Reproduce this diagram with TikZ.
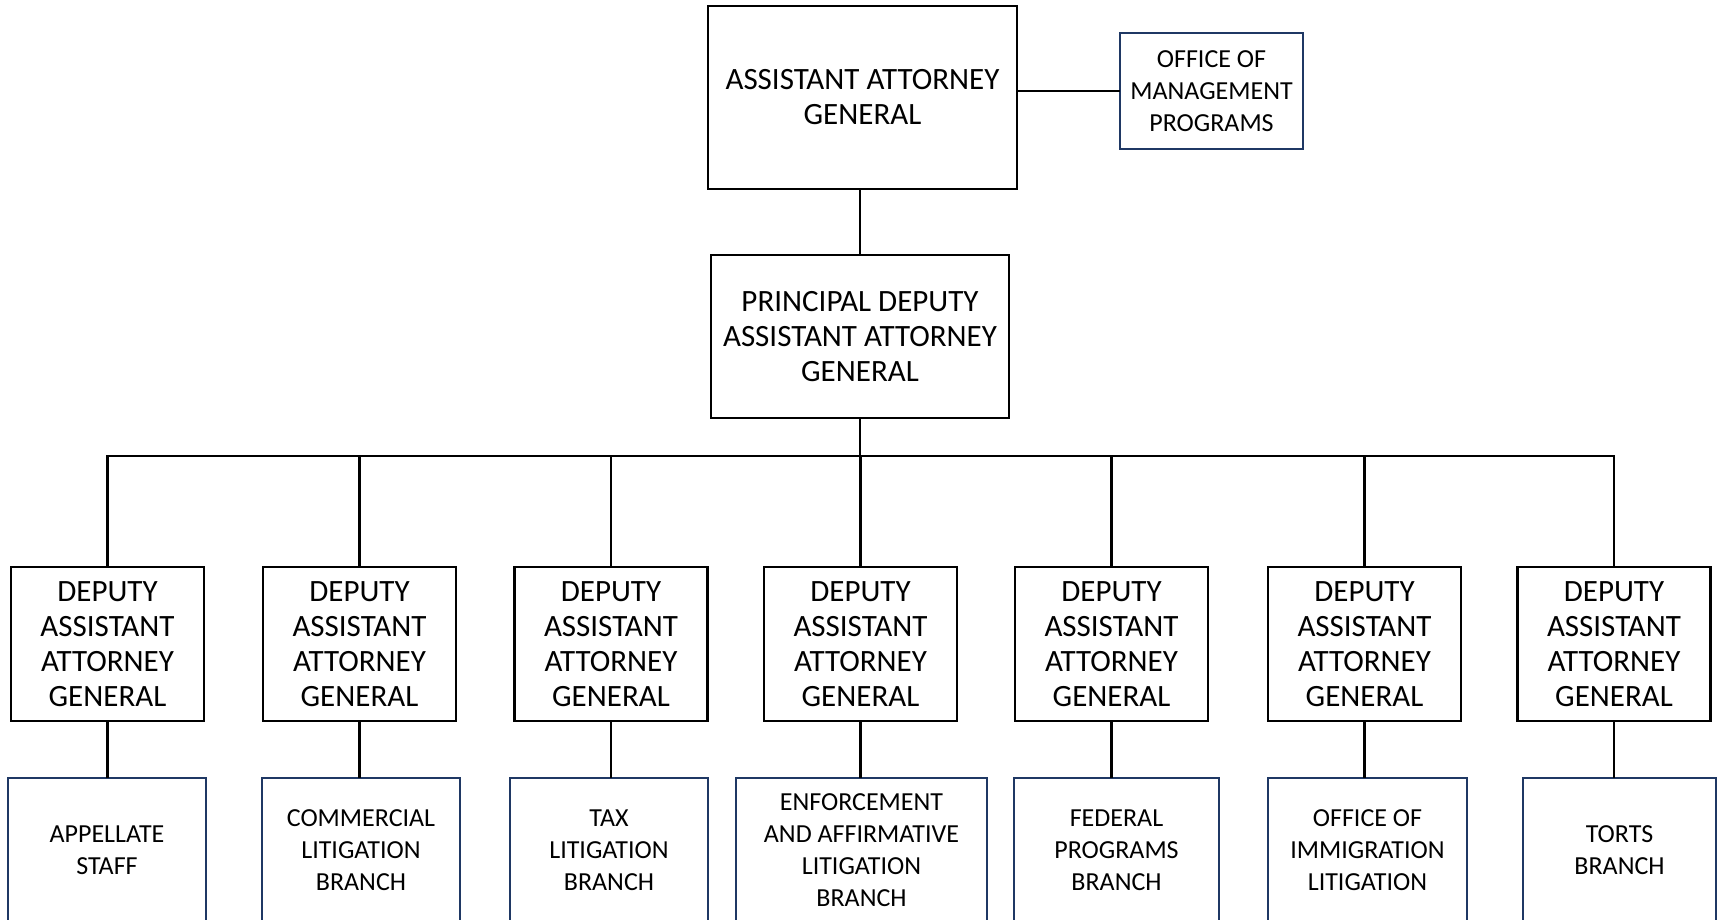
\documentclass[tikz,border=0pt]{standalone}
\usepackage{fontspec}
\setmainfont{Carlito}
\definecolor{navy}{RGB}{31,56,100}
\begin{document}
\begin{tikzpicture}[x=1pt,y=-1pt,
  big/.style={draw=black, line width=2.5pt, align=center, inner sep=0pt,
    font=\fontsize{31}{35}\selectfont},
  small/.style={draw=navy, line width=2pt, align=center, inner sep=0pt,
    font=\fontsize{26}{32}\selectfont},
  daag/.style={big, minimum width=193pt, minimum height=154pt},
  unit/.style={small, minimum height=144pt},
  conn/.style={line width=2.5pt, line cap=rect}]
\useasboundingbox (0,0) rectangle (1719,920);
\clip (0,0) rectangle (1719,920);
\fill[white] (0,0) rectangle (1719,920);

\node[big, minimum width=309pt, minimum height=183pt] (aag) at (862.5,97.5)
  {ASSISTANT ATTORNEY\\GENERAL};
\node[small, minimum width=183pt, minimum height=116pt] (omp) at (1211.5,91)
  {OFFICE OF\\MANAGEMENT\\PROGRAMS};
\node[big, minimum width=298pt, minimum height=163pt] (pdaag) at (860,336.5)
  {PRINCIPAL DEPUTY\\ASSISTANT ATTORNEY\\GENERAL};

\foreach \i/\x in {1/107.5,2/359.5,3/611,4/860.5,5/1111.5,6/1364.5,7/1614}{
  \node[daag] (d\i) at (\x,644) {DEPUTY\\ASSISTANT\\ATTORNEY\\GENERAL};
}

\node[unit, minimum width=198pt] (b1) at (107,850) {APPELLATE\\STAFF};
\node[unit, minimum width=198pt] (b2) at (361,850) {COMMERCIAL\\LITIGATION\\BRANCH};
\node[unit, minimum width=198pt] (b3) at (609,850) {TAX\\LITIGATION\\BRANCH};
\node[unit, minimum width=251pt] (b4) at (861.5,850) {ENFORCEMENT\\AND AFFIRMATIVE\\LITIGATION\\BRANCH};
\node[unit, minimum width=205pt] (b5) at (1116.5,850) {FEDERAL\\PROGRAMS\\BRANCH};
\node[unit, minimum width=199pt] (b6) at (1367.5,850) {OFFICE OF\\IMMIGRATION\\LITIGATION};
\node[unit, minimum width=193pt] (b7) at (1619.5,850) {TORTS\\BRANCH};

\coordinate (bus) at (860,456);
\draw[conn] (aag.east |- omp.west) -- (omp.west);
\draw[conn] (aag.south -| pdaag.north) -- (pdaag.north);
\draw[conn] (pdaag.south) -- (bus);
\draw[conn] (bus -| d1.north) -- (bus -| d7.north);
\foreach \i in {1,...,7}{
  \draw[conn] (bus -| d\i.north) -- (d\i.north);
  \draw[conn] (d\i.south) -- (d\i.south |- b\i.north);
}
\end{tikzpicture}
\end{document}
